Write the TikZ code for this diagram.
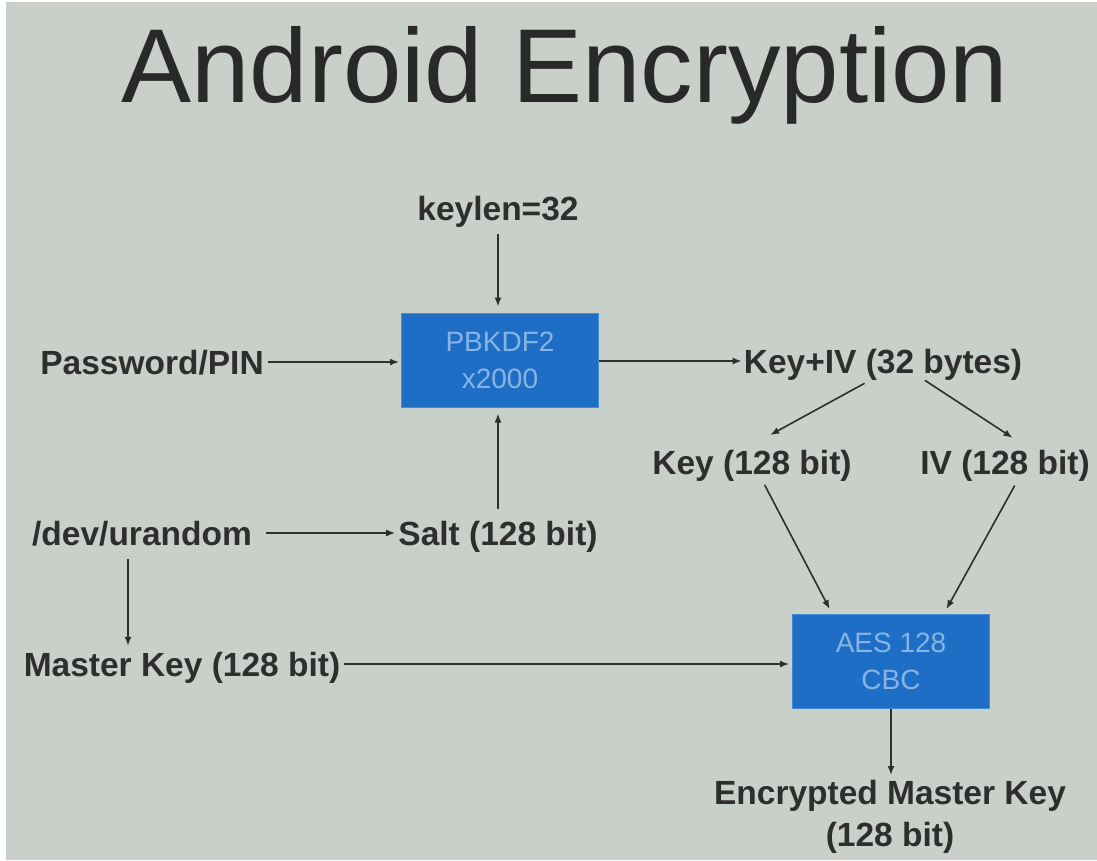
\documentclass[tikz,border=0pt]{standalone}
\usepackage{fontspec}
\setmainfont{Liberation Sans}
\usetikzlibrary{arrows.meta}
\definecolor{bg}{RGB}{201,207,201}
\definecolor{ink}{RGB}{46,46,46}
\definecolor{boxblue}{RGB}{30,110,198}
\definecolor{boxedge}{RGB}{70,140,215}
\definecolor{boxtext}{RGB}{135,180,228}
\tikzset{
  lbl/.style={font=\fontsize{33.5}{42}\selectfont\bfseries, text=ink, inner sep=0pt, text height=24pt, text depth=0pt},
  proc/.style={fill=boxblue, draw=boxedge, line width=1pt, minimum width=197pt, minimum height=94pt, align=center, text=boxtext, font=\fontsize{28}{37}\selectfont, inner sep=0pt},
  arr/.style={draw=ink, line width=1.6pt, -{Latex[length=9pt,width=7pt]}},
}
\begin{document}
\begin{tikzpicture}[x=1pt,y=-1pt]
\useasboundingbox (0,0) rectangle (1097,860);
\fill[white] (0,0) rectangle (1097,860);
\fill[bg] (6,2) rectangle (1097,860);
\node[font=\fontsize{105}{110}\selectfont, text=ink!90!black, inner sep=0pt, text height=75pt, text depth=0pt] (title) at (565,65) {Android Encryption};
\node[lbl] (kl) at (498,208) {keylen=32};
\node[proc] (pb) at (500,360) {PBKDF2\\x2000};
\node[lbl] (pw) at (152,362) {Password/PIN};
\node[lbl] (kiv) at (883,361) {Key+IV (32 bytes)};
\node[lbl] (key) at (752,462) {Key (128 bit)};
\node[lbl] (iv) at (1005,462) {IV (128 bit)};
\node[lbl] (ur) at (142,533) {/dev/urandom};
\node[lbl] (salt) at (498,533) {Salt (128 bit)};
\node[lbl] (mk) at (182,664) {Master Key (128 bit)};
\node[proc] (aes) at (891,661) {AES 128\\CBC};
\node[font=\fontsize{33.5}{42}\selectfont\bfseries, text=ink, inner sep=0pt, align=center, anchor=north] (enc) at (890,780) {Encrypted Master Key\\(128 bit)};
\draw[arr, shorten <=14pt, shorten >=6pt] (kl.south) -- (kl.south |- pb.north);
\draw[arr, shorten <=4pt, shorten >=2pt] (pw.east) -- (pw.east -| pb.west);
\draw[arr, shorten >=2pt] (pb.east |- kiv.west) -- (kiv.west);
\draw[arr, shorten <=12pt, shorten >=6pt] (salt.north) -- (salt.north |- pb.south);
\draw[arr, shorten <=14pt, shorten >=3pt] (ur.east) -- (ur.east -| salt.west);
\draw[arr, shorten <=14pt, shorten >=6pt] (ur.south -| 128,0) -- (mk.north -| 128,0);
\draw[arr, shorten <=4pt, shorten >=3pt] (mk.east) -- (mk.east -| aes.west);
\draw[arr, shorten <=21pt, shorten >=31pt] (kiv.south) -- ([xshift=-9pt]key.north);
\draw[arr, shorten <=13pt, shorten >=22pt] ([xshift=31pt]kiv.south) -- ([xshift=26pt]iv.north);
\draw[arr, shorten <=12pt, shorten >=5pt] ([xshift=7pt]key.south) -- ([xshift=-59pt]aes.north);
\draw[arr, shorten <=13pt, shorten >=5pt] ([xshift=16pt]iv.south) -- ([xshift=53pt]aes.north);
\draw[arr, shorten >=5pt] (aes.south) -- (aes.south |- enc.north);
\end{tikzpicture}
\end{document}
